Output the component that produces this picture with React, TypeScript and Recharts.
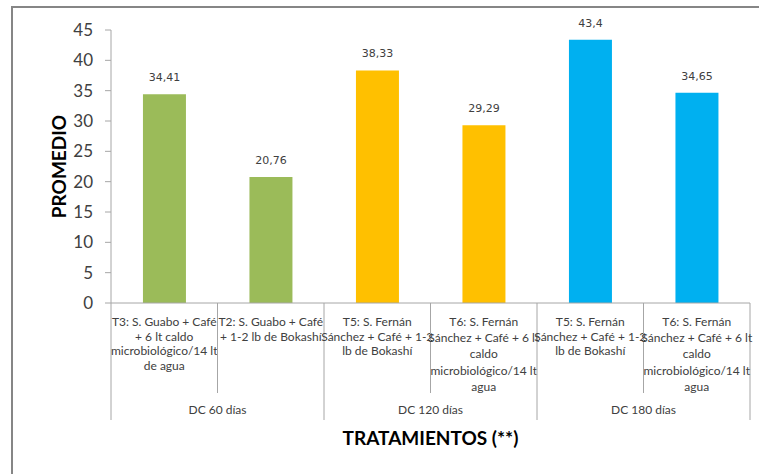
import { BarChart, Bar, XAxis, YAxis, Cell, LabelList } from 'recharts';

// Treatment labels, already wrapped the way they show under each bar
const treatments: string[][] = [
  ['T3: S. Guabo + Café', '+ 6 lt caldo', 'microbiológico/14 lt', 'de agua'],
  ['T2: S. Guabo + Café', '+ 1-2 lb de Bokashí'],
  ['T5: S. Fernán', 'Sánchez + Café + 1-2', 'lb de Bokashí'],
  ['T6: S. Fernán', 'Sánchez + Café + 6 lt', 'caldo', 'microbiológico/14 lt', 'agua'],
  ['T5: S. Fernán', 'Sánchez + Café + 1-2', 'lb de Bokashí'],
  ['T6: S. Fernán', 'Sánchez + Café + 6 lt', 'caldo', 'microbiológico/14 lt', 'agua'],
];
const groups = ['DC 60 días', 'DC 120 días', 'DC 180 días'];
const promedio = [34.41, 20.76, 38.33, 29.29, 43.4, 34.65];
const barColors = ['#9BBB59', '#9BBB59', '#FFC000', '#FFC000', '#00B0F0', '#00B0F0'];
const yTicks = [0, 5, 10, 15, 20, 25, 30, 35, 40, 45];

const chartData = promedio.map((value, i) => ({
  id: `t${i}`,
  promedio: value,
  group: groups[Math.floor(i / 2)],
}));

const AXIS_COLOR = '#A6A6A6';
const TEXT_COLOR = '#404040';
const LABEL_FONT = 'Lato, "Liberation Sans", sans-serif';

function TreatmentTick(props: any) {
  const { x, y, payload, index } = props;
  const half = payload?.offset ?? 53;
  const lines = treatments[index] || [];
  const lineHeight = lines.length > 4 ? 16.2 : 14.6;
  const shortDrop = 90;
  const longDrop = 117;
  const startsGroup = index % 2 === 0;
  const isLast = index === treatments.length - 1;
  return (
    <g>
      <line
        x1={x - half}
        x2={x - half}
        y1={y}
        y2={y + (startsGroup ? longDrop : shortDrop)}
        stroke={AXIS_COLOR}
        strokeWidth={1}
      />
      {isLast && (
        <line x1={x + half} x2={x + half} y1={y} y2={y + longDrop} stroke={AXIS_COLOR} strokeWidth={1} />
      )}
      <text x={x} y={y + 23} textAnchor="middle" fontSize={12} fontFamily={LABEL_FONT} fill={TEXT_COLOR}>
        {lines.map((line, i) => (
          <tspan key={i} x={x} dy={i === 0 ? 0 : lineHeight}>
            {line}
          </tspan>
        ))}
      </text>
      {startsGroup && (
        <text
          x={x + half}
          y={y + 111}
          textAnchor="middle"
          fontSize={12}
          fontFamily={LABEL_FONT}
          fill={TEXT_COLOR}
        >
          {groups[index / 2]}
        </text>
      )}
    </g>
  );
}

function YTitle(props: any) {
  const { viewBox } = props;
  const cx = 58;
  const cy = viewBox.y + viewBox.height / 2;
  return (
    <text
      x={cx}
      y={cy}
      transform={`rotate(-90 ${cx} ${cy})`}
      textAnchor="middle"
      dominantBaseline="central"
      fontSize={19}
      fontWeight={700}
      fontFamily={LABEL_FONT}
      fill="#000"
    >
      PROMEDIO
    </text>
  );
}

function XTitle(props: any) {
  const { viewBox } = props;
  return (
    <text
      x={viewBox.x + viewBox.width / 2}
      y={437}
      textAnchor="middle"
      dominantBaseline="central"
      fontSize={19}
      fontWeight={700}
      fontFamily={LABEL_FONT}
      fill="#000"
    >
      TRATAMIENTOS (**)
    </text>
  );
}

export default function App() {
  return (
    <div style={{ position: 'relative', width: 759, height: 474, overflow: 'hidden', background: '#fff' }}>
      <style>{'body{margin:0}'}</style>
      <div
        style={{
          position: 'absolute',
          left: 11,
          top: 6,
          width: 800,
          height: 520,
          border: '2px solid #868686',
          boxSizing: 'border-box',
        }}
      />
      <BarChart
        width={759}
        height={474}
        data={chartData}
        margin={{ top: 30, right: 9, left: 0, bottom: 0 }}
        barCategoryGap="30%"
        style={{ position: 'absolute', left: 0, top: 0 }}
      >
        <XAxis
          dataKey="id"
          height={171}
          interval={0}
          tickLine={false}
          tickSize={0}
          tickMargin={0}
          stroke={AXIS_COLOR}
          tick={<TreatmentTick />}
          label={<XTitle />}
        />
        <YAxis
          width={111}
          domain={[0, 45]}
          ticks={yTicks}
          interval={0}
          tickSize={6}
          tickMargin={12}
          stroke={AXIS_COLOR}
          tick={{ fill: TEXT_COLOR, fontSize: 17, fontFamily: LABEL_FONT }}
          label={<YTitle />}
        />
        <Bar dataKey="promedio" isAnimationActive={false}>
          {chartData.map((entry, i) => (
            <Cell key={entry.id} fill={barColors[i]} />
          ))}
          <LabelList
            dataKey="promedio"
            position="top"
            offset={13}
            formatter={(v: any) => String(v).replace('.', ',')}
            style={{ fill: TEXT_COLOR, fontSize: 11, fontFamily: '"DejaVu Sans", Verdana, sans-serif' }}
          />
        </Bar>
      </BarChart>
    </div>
  );
}
